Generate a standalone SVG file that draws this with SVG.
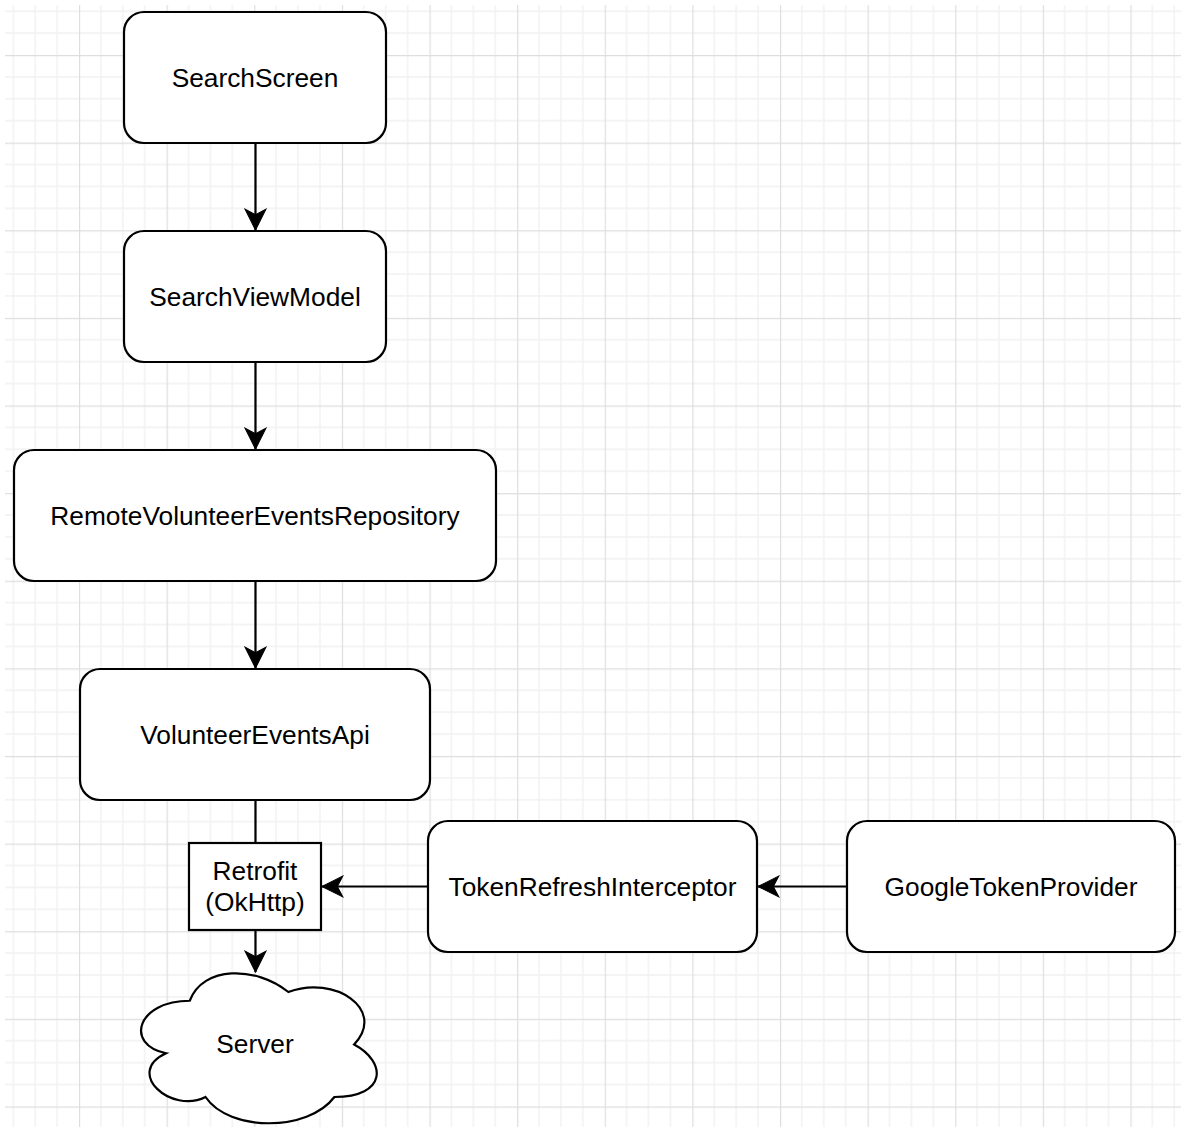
<svg xmlns="http://www.w3.org/2000/svg" width="1181" height="1127" viewBox="0 0 1181 1127">
  <style>
    .node { fill: #ffffff; stroke: #000000; stroke-width: 2.2; }
    .lbl { font-family: "Liberation Sans", Arial, Helvetica, sans-serif; font-size: 26.3px; fill: #000000; text-anchor: middle; }
    .edge { fill: none; stroke: #000000; stroke-width: 2.2; }
  </style>
  <defs>
    <pattern id="grid" patternUnits="userSpaceOnUse" x="79" y="55" width="87.62" height="87.62">
      <g stroke="#f1f1f1" stroke-width="1.4" fill="none">
        <line x1="21.9" y1="0" x2="21.9" y2="87.62"/>
        <line x1="43.81" y1="0" x2="43.81" y2="87.62"/>
        <line x1="65.71" y1="0" x2="65.71" y2="87.62"/>
        <line x1="0" y1="21.9" x2="87.62" y2="21.9"/>
        <line x1="0" y1="43.81" x2="87.62" y2="43.81"/>
        <line x1="0" y1="65.71" x2="87.62" y2="65.71"/>
      </g>
      <g stroke="#dedede" stroke-width="1.4" fill="none">
        <line x1="0.5" y1="0" x2="0.5" y2="87.62"/>
        <line x1="0" y1="0.5" x2="87.62" y2="0.5"/>
      </g>
    </pattern>
    <marker id="arrow" markerUnits="userSpaceOnUse" markerWidth="24" markerHeight="24" viewBox="-20 -10 22 20" refX="0" refY="0" orient="auto">
      <path d="M0,0 L-19,-9.5 L-14,0 L-19,9.5 Z" fill="#000000" stroke="#000000" stroke-width="1"/>
    </marker>
  </defs>

  <rect x="0" y="0" width="1181" height="1127" fill="#ffffff"/>
  <rect x="5" y="5" width="1176" height="1122" fill="url(#grid)"/>

  <g id="connectors">
    <line class="edge" x1="255.5" y1="143" x2="255.5" y2="230" marker-end="url(#arrow)"/>
    <line class="edge" x1="255.5" y1="362" x2="255.5" y2="449" marker-end="url(#arrow)"/>
    <line class="edge" x1="255.5" y1="581" x2="255.5" y2="668" marker-end="url(#arrow)"/>
    <line class="edge" x1="255.5" y1="800" x2="255.5" y2="843"/>
    <line class="edge" x1="255.5" y1="930" x2="255.5" y2="972" marker-end="url(#arrow)"/>
    <line class="edge" x1="428" y1="886.5" x2="322" y2="886.5" marker-end="url(#arrow)"/>
    <line class="edge" x1="847" y1="886.5" x2="758" y2="886.5" marker-end="url(#arrow)"/>
  </g>

  <g id="node-searchscreen">
    <rect class="node" x="124" y="12" width="262" height="131" rx="20" ry="20"/>
    <text class="lbl" x="255" y="86.5">SearchScreen</text>
  </g>
  <g id="node-searchviewmodel">
    <rect class="node" x="124" y="231" width="262" height="131" rx="20" ry="20"/>
    <text class="lbl" x="255" y="305.5">SearchViewModel</text>
  </g>
  <g id="node-repository">
    <rect class="node" x="14" y="450" width="482" height="131" rx="20" ry="20"/>
    <text class="lbl" x="255" y="524.5">RemoteVolunteerEventsRepository</text>
  </g>
  <g id="node-api">
    <rect class="node" x="80" y="669" width="350" height="131" rx="20" ry="20"/>
    <text class="lbl" x="255" y="743.5">VolunteerEventsApi</text>
  </g>
  <g id="node-retrofit">
    <rect class="node" x="189" y="843" width="132" height="87"/>
    <text class="lbl" x="255" y="879.5">Retrofit</text>
    <text class="lbl" x="255" y="911">(OkHttp)</text>
  </g>
  <g id="node-tokenrefresh">
    <rect class="node" x="428" y="821" width="329" height="131" rx="20" ry="20"/>
    <text class="lbl" x="592.5" y="895.5">TokenRefreshInterceptor</text>
  </g>
  <g id="node-googletoken">
    <rect class="node" x="847" y="821" width="328" height="131" rx="20" ry="20"/>
    <text class="lbl" x="1011" y="895.5">GoogleTokenProvider</text>
  </g>
  <g id="node-server">
    <path class="node" transform="translate(124,957) scale(263,175)" vector-effect="non-scaling-stroke"
      d="M0.25,0.25 C0.05,0.25 0,0.5 0.16,0.55 C0,0.66 0.18,0.9 0.31,0.8 C0.4,1 0.7,1 0.8,0.8 C1,0.8 1,0.6 0.875,0.5 C1,0.3 0.8,0.1 0.625,0.2 C0.5,0.05 0.3,0.05 0.25,0.25 Z"/>
    <text class="lbl" x="255" y="1053">Server</text>
  </g>
</svg>
